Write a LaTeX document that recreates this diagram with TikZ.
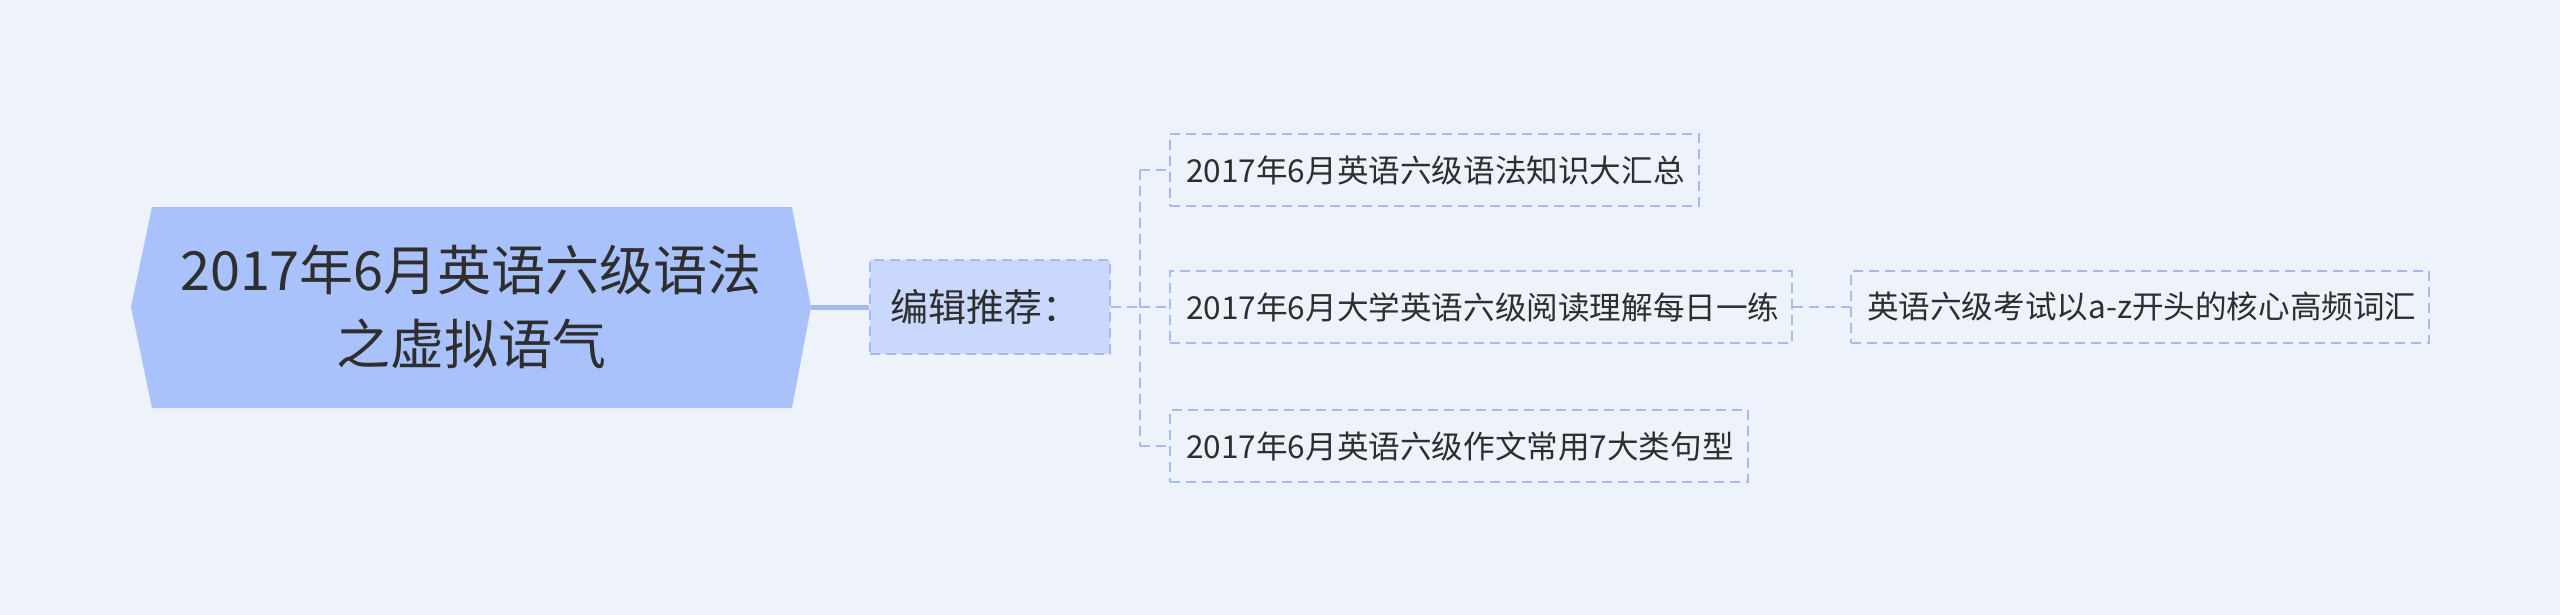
\documentclass[tikz,border=0pt]{standalone}
\usepackage{fontspec}
\setmainfont{Noto Sans CJK SC}
\definecolor{bgc}{HTML}{EEF3FB}
\definecolor{rootc}{HTML}{A9C2FB}
\definecolor{editc}{HTML}{C9D8FC}
\definecolor{linec}{HTML}{A6BBF2}
\definecolor{txtc}{HTML}{2E2E2E}
\tikzset{
  dashline/.style={draw=linec, line width=1.1pt, dash pattern=on 5pt off 3pt},
  leafbox/.style={dashline, fill=bgc, inner sep=0pt, text=txtc, font=\fontsize{15.8}{18}\selectfont, minimum height=36pt, anchor=west},
  editbox/.style={dashline, fill=editc, inner sep=0pt, text=txtc, font=\fontsize{19}{22}\selectfont, minimum width=120pt, text width=120pt, align=left, minimum height=47pt},
}
\begin{document}
\begin{tikzpicture}[x=0.5pt,y=-0.5pt]
\useasboundingbox (0,0) rectangle (2560,615);
\fill[bgc] (0,0) rectangle (2560,615);
% root hexagon
\fill[rootc] (131,307) -- (152,207) -- (792,207) -- (811,307) -- (792,408) -- (152,408) -- cycle;
\node[text=txtc, align=center, font=\fontsize{27}{37}\selectfont] (root) at (471,307) {2017年6月英语六级语法\\之虚拟语气};
\coordinate (rootE) at (811,307);
% edit box
\node[editbox] (edit) at (990,307) {\hspace{10pt}编辑推荐：};
\draw[draw=linec, line width=2.5pt] (rootE) -- (edit.west);
% trunk
\coordinate (tr) at (1140,307);
\coordinate (t1) at (1140,170);
\coordinate (t3) at (1140,446);
% children
\node[leafbox, minimum width=264.5pt, text width=264.5pt, align=left] (c1) at (1169,170) {\hspace{8pt}2017年6月英语六级语法知识大汇总};
\node[leafbox, minimum width=311pt, text width=311pt, align=left] (c2) at (1169,307) {\hspace{8pt}2017年6月大学英语六级阅读理解每日一练};
\node[leafbox, minimum width=289pt, text width=289pt, align=left] (c3) at (1169,446) {\hspace{8pt}2017年6月英语六级作文常用7大类句型};
\node[leafbox, minimum width=289pt, text width=289pt, align=left] (g1) at (1850,307) {\hspace{8pt}英语六级考试以a-z开头的核心高频词汇};
\draw[dashline] (edit.east) -- (tr);
\draw[dashline] (t1) -- (t3);
\draw[dashline] (t1) -- (c1.west);
\draw[dashline] (tr) -- (c2.west);
\draw[dashline] (t3) -- (c3.west);
\draw[dashline] (c2.east) -- (g1.west);
\end{tikzpicture}
\end{document}
